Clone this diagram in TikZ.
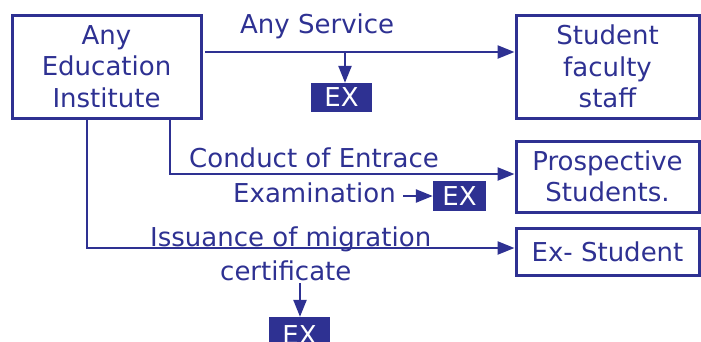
\documentclass[tikz,border=0pt]{standalone}
\usepackage{fontspec}
\setmainfont{DejaVu Sans}
\usetikzlibrary{arrows.meta}
\definecolor{navy}{RGB}{46,49,146}
\begin{document}
\begin{tikzpicture}[x=1pt,y=-1pt,
  every node/.style={font=\fontsize{26}{31.5}\selectfont, text=navy, inner sep=0pt},
  box/.style={draw=navy, line width=3pt, align=center},
  exbox/.style={fill=navy, text=white, minimum height=29pt},
  conn/.style={draw=navy, line width=2.4pt, -{Triangle[length=17pt,width=13pt]}},
  lbl/.style={anchor=base west}]
\useasboundingbox (0,0) rectangle (701,341);
\clip (0,0) rectangle (701,341);
% boxes
\node[box, minimum width=189pt, minimum height=103pt] (inst) at (106.5,66.5) {Any\\Education\\Institute};
\node[box, minimum width=183pt, minimum height=103pt] (staff) at (607.5,66.5) {Student\\faculty\\staff};
\node[box, minimum width=183pt, minimum height=71pt] (prosp) at (607.5,176.5) {Prospective\\Students.};
\node[box, minimum width=183pt, minimum height=47pt] (exst) at (607.5,251.5) {Ex- Student};
\node[exbox, minimum width=61pt] (ex1) at (341.5,97.5) {EX};
\node[exbox, minimum width=53pt, minimum height=30pt] (ex2) at (459.5,196) {EX};
\node[exbox, minimum width=61pt, minimum height=36pt] (ex3) at (299.5,335) {EX};
% labels
\node[lbl] (l1) at (240,33) {Any Service};
\node[lbl] (l2) at (189,167) {Conduct of Entrace};
\node[lbl] (l3) at (233,202) {Examination};
\node[lbl] (l4) at (150,246) {Issuance of migration};
\node[lbl] (l5) at (220,280) {certificate};
% connectors
\coordinate (s1) at (205,52);
\draw[conn] (s1) -- (staff.west |- s1);
\coordinate (b1) at (345,52);
\draw[conn] (b1) -- (b1 |- ex1.north);
\coordinate (c2) at (170,174);
\draw[conn] (c2 |- inst.south) -- (c2) -- (prosp.west |- c2);
\coordinate (c3) at (87,248);
\draw[conn] (c3 |- inst.south) -- (c3) -- (exst.west |- c3);
\coordinate (a2) at (403,196);
\draw[conn] (a2) -- (ex2.west);
\coordinate (a3) at (300,283);
\draw[conn] (a3) -- (a3 |- ex3.north);
\end{tikzpicture}
\end{document}
